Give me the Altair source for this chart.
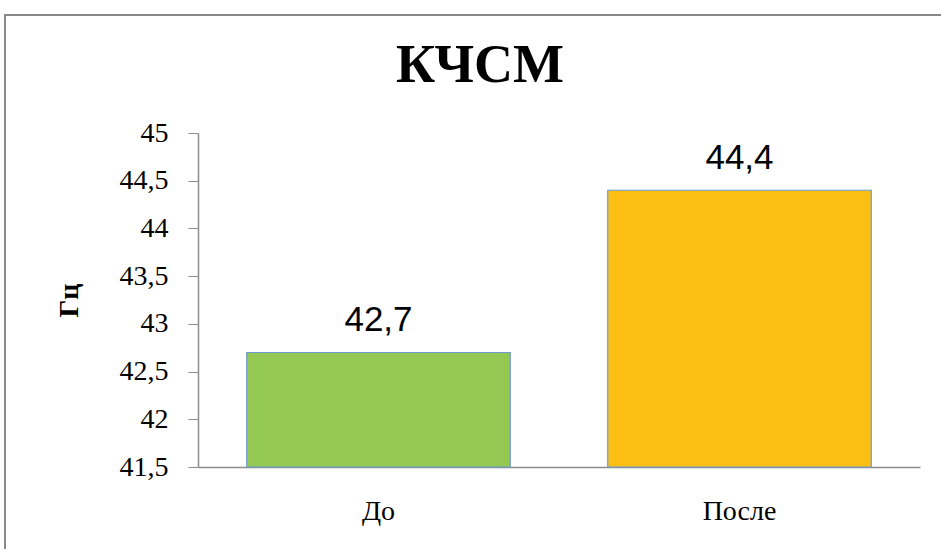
import altair as alt
import pandas as pd

categories = ["До", "После"]
values = [42.7, 44.4]
bar_colors = ["#93C952", "#FBBF14"]
y_ticks = [41.5, 42, 42.5, 43, 43.5, 44, 44.5, 45]
title_text = "КЧСМ"
y_title = "Гц"

df = pd.DataFrame({"cat": categories, "val": values, "color": bar_colors})
df["label"] = [str(v).replace(".", ",") for v in values]

SERIF = "Times New Roman, Liberation Serif, serif"
SANS = "Liberation Sans"

x_enc = alt.X(
    "cat:N",
    sort=categories,
    scale=alt.Scale(paddingInner=0.27, paddingOuter=0.135),
    axis=alt.Axis(
        title=None, labelAngle=0, ticks=False, domainColor="#8C8C8C", domainWidth=1.5,
        labelFont=SERIF, labelFontSize=28, labelColor="#000000", labelPadding=30,
        labelBaseline="top",
    ),
)
y_enc = alt.Y(
    "val:Q",
    scale=alt.Scale(domain=[41.5, 45], zero=False, nice=False),
    axis=alt.Axis(
        values=y_ticks, grid=False, title=y_title,
        labelExpr="replace(format(datum.value, '~g'), '.', ',')",
        labelFont=SERIF, labelFontSize=28, labelColor="#000000", labelPadding=20,
        tickSize=10, tickColor="#8C8C8C", domainColor="#8C8C8C", domainWidth=1.5,
        titleFont=SERIF, titleFontSize=28, titleFontWeight="bold", titleColor="#000000",
        titleAngle=-90, titleX=-129, titleY=167, titleAlign="center", titleBaseline="middle",
    ),
)

bars = alt.Chart(df).mark_bar(stroke="#6F9BD1", strokeWidth=1.2).encode(
    x=x_enc,
    y=y_enc,
    y2=alt.datum(41.5),
    color=alt.Color("color:N", scale=None),
)

labels = alt.Chart(df).mark_text(
    font=SANS, fontSize=35, baseline="alphabetic", dy=-21, color="#000000"
).encode(
    x=x_enc,
    y=y_enc,
    text="label:N",
)

border = alt.Chart(pd.DataFrame({"a": [0]})).mark_rect(
    fillOpacity=0, stroke="#888888", strokeWidth=2
).encode(
    x=alt.value(-193), x2=alt.value(780), y=alt.value(-118), y2=alt.value(450)
)

chart = alt.layer(border, bars, labels).properties(
    width=722,
    height=334,
    background="white",
    autosize=alt.AutoSizeParams(type="none"),
    padding={"left": 198, "top": 133, "right": 21, "bottom": 82},
    title=alt.TitleParams(
        title_text, font=SERIF, fontSize=54, fontWeight="bold", color="#000000",
        anchor="middle", dx=-79, dy=89, offset=10,
    ),
).configure_view(strokeWidth=0)

chart.save("out.html", embed_options={"renderer": "svg", "actions": False})
